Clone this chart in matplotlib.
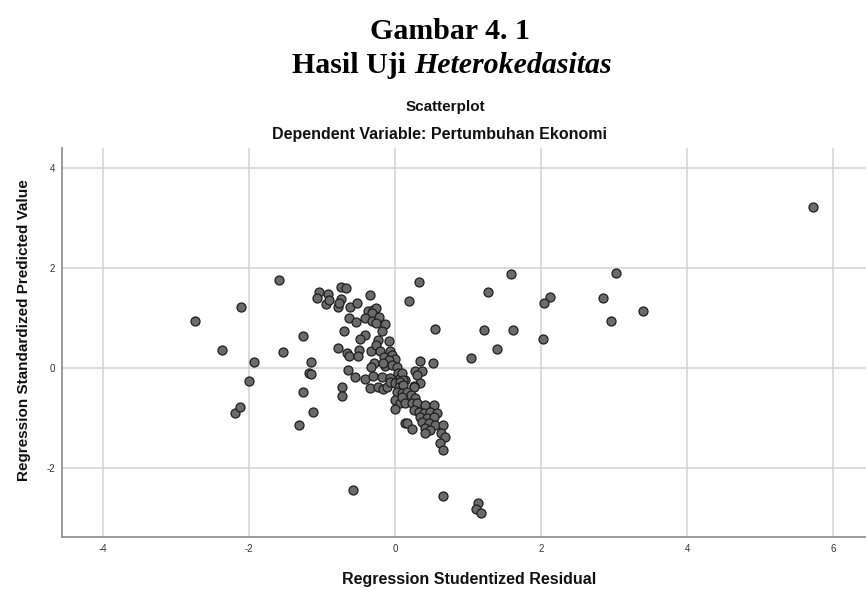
import matplotlib
matplotlib.use("Agg")
import matplotlib.pyplot as plt

# Regression Studentized Residual (x) and Regression Standardized Predicted Value (y)
resid_x = [
    -2.74, -2.12, -1.60, -2.38, -1.94, -2.00, -1.26, -1.54, -1.15, -1.18, -1.16,
    -2.20, -2.13, -1.32, -1.13, -1.26, -0.73, -0.73, -0.58, 0.66, 1.14, 1.11, 1.17,
    -1.05, -1.07, -0.92, -0.95, -0.91, -0.78, -0.75, -0.68, -0.74, -0.77, -0.62, -0.52,
    -0.35, -0.63, -0.54, -0.70, -0.41, -0.49, -0.78, -0.66, -0.63, -0.50, -0.51, -0.33,
    -0.65, -0.55, -0.41,
    -0.38, -0.31, -0.26, -0.32, -0.42, -0.32, -0.22, -0.27, -0.14, -0.18,
    -0.23, -0.27, -0.08, -0.21, -0.07, -0.15, -0.05, 0.00, -0.09,
    -0.29, -0.14, -0.05, 0.02, -0.33, -0.17,
    -0.30, -0.18, -0.07, 0.04, 0.07, 0.14,
    0.34, 0.52, 0.27, 0.36, 0.30, 0.09, 0.11, 0.34, 0.25,
    -0.34, -0.23, -0.17, -0.11, -0.07, 0.00, 0.07, 0.05, 0.11, 0.02, 0.09,
    -0.01, 0.07, 0.00, 0.14,
    0.25, 0.16, 0.09, 0.21, 0.27, 0.14, 0.23, 0.30, 0.41, 0.53,
    0.25, 0.32, 0.39, 0.48, 0.57, 0.34, 0.43, 0.53, 0.36, 0.46, 0.55,
    0.16, 0.23, 0.41, 0.48, 0.41, 0.66, 0.62, 0.68, 0.61, 0.66,
    0.19, 0.33, 0.55, 5.72, 1.58, 3.03, 1.27, 2.12, 2.04, 2.84, 3.40, 2.95,
    1.22, 1.61, 2.02, 1.39, 1.04,
]
pred_y = [
    0.94, 1.23, 1.77, 0.36, 0.12, -0.25, 0.65, 0.32, 0.13, -0.10, -0.12,
    -0.89, -0.77, -1.14, -0.87, -0.47, -0.38, -0.55, -2.44, -2.56, -2.70, -2.81, -2.89,
    1.53, 1.41, 1.48, 1.29, 1.37, 1.22, 1.62, 1.61, 1.39, 1.30, 1.22, 1.31,
    1.47, 1.01, 0.92, 0.75, 0.67, 0.59, 0.41, 0.31, 0.25, 0.36, 0.25, 0.35,
    -0.04, -0.18, -0.21,
    1.15, 1.17, 1.21, 1.10, 1.01, 0.95, 1.02, 0.91, 0.88, 0.75,
    0.56, 0.47, 0.54, 0.34, 0.35, 0.23, 0.27, 0.19, 0.17,
    0.10, 0.05, 0.07, 0.03, 0.03, 0.11,
    -0.15, -0.18, -0.20, -0.10, -0.20, -0.23,
    0.15, 0.11, -0.05, -0.05, -0.14, -0.10, -0.23, -0.29, -0.35,
    -0.40, -0.38, -0.41, -0.37, -0.27, -0.30, -0.27, -0.37, -0.33, -0.47, -0.50,
    -0.63, -0.69, -0.82, -1.10,
    -0.38, -0.47, -0.57, -0.53, -0.60, -0.70, -0.70, -0.69, -0.73, -0.73,
    -0.83, -0.87, -0.90, -0.87, -0.90, -0.97, -1.00, -0.97, -1.07, -1.10, -1.13,
    -1.10, -1.22, -1.20, -1.23, -1.30, -1.13, -1.30, -1.37, -1.50, -1.63,
    1.35, 1.72, 0.78, 3.23, 1.88, 1.91, 1.53, 1.43, 1.31, 1.41, 1.15, 0.95,
    0.76, 0.77, 0.59, 0.39, 0.21,
]

x_ticks = [-4, -2, 0, 2, 4, 6]
y_ticks = [-2, 0, 2, 4]

plt.rcParams['font.family'] = ['Liberation Sans', 'DejaVu Sans']
plt.rcParams['axes.unicode_minus'] = False

W, H = 866, 589
fig = plt.figure(figsize=(W / 100, H / 100), dpi=100)
ax = fig.add_axes([0.0713, 0.0878, 0.9287, 0.6609])

ax.scatter(resid_x, pred_y, s=42, facecolor='#6b6b6b', edgecolor='#1e1e1e',
           linewidth=0.9, zorder=3)

ax.set_xlim(-4.57, 6.45)
ax.set_ylim(-3.38, 4.4)
ax.set_xticks(x_ticks)
ax.set_yticks(y_ticks)
ax.grid(True, color='#d2d2d2', linewidth=1.1, zorder=0)
ax.set_axisbelow(True)
for side in ['top', 'right']:
    ax.spines[side].set_visible(False)
for side in ['left', 'bottom']:
    ax.spines[side].set_color('#8a8a8a')
    ax.spines[side].set_linewidth(1.2)
ax.tick_params(length=0, labelsize=7, colors='#333333', pad=5)

serif = dict(family='Liberation Serif', fontweight='bold', fontsize=21.5, color='black')
fig.text(0.520, 0.947, 'Gambar 4. 1', ha='center', va='center', **serif)
t1 = fig.text(0.5, 0.889, 'Hasil Uji', ha='left', va='center', **serif)
t2 = fig.text(0.5, 0.889, 'Heterokedasitas', ha='left', va='center',
              fontstyle='italic', **serif)
tsp = fig.text(0.5, 0.889, 'a a', ha='left', va='center', **serif)
tna = fig.text(0.5, 0.889, 'aa', ha='left', va='center', **serif)

fig.text(0.514, 0.819, 'Scatterplot', ha='center', va='center',
         fontweight='bold', fontsize=11, color='#111111')
fig.text(0.508, 0.771, 'Dependent Variable: Pertumbuhan Ekonomi', ha='center',
         va='center', fontweight='bold', fontsize=11.5, color='#111111')

fig.text(0.028, 0.44, 'Regression Standardized Predicted Value', rotation=90,
         ha='center', va='center', fontweight='bold', fontsize=11, color='#111111')
fig.text(0.542, 0.016, 'Regression Studentized Residual', ha='center',
         va='center', fontweight='bold', fontsize=11.5, color='#111111')

# centre the mixed upright/italic title line
fig.canvas.draw()
r = fig.canvas.get_renderer()
w1 = t1.get_window_extent(r).width
w2 = t2.get_window_extent(r).width
space = tsp.get_window_extent(r).width - tna.get_window_extent(r).width
tsp.remove()
tna.remove()
total = w1 + space + w2
left = 0.522 * W - total / 2
t1.set_x(left / W)
t2.set_x((left + w1 + space) / W)

fig.savefig('out.png', dpi=100)
